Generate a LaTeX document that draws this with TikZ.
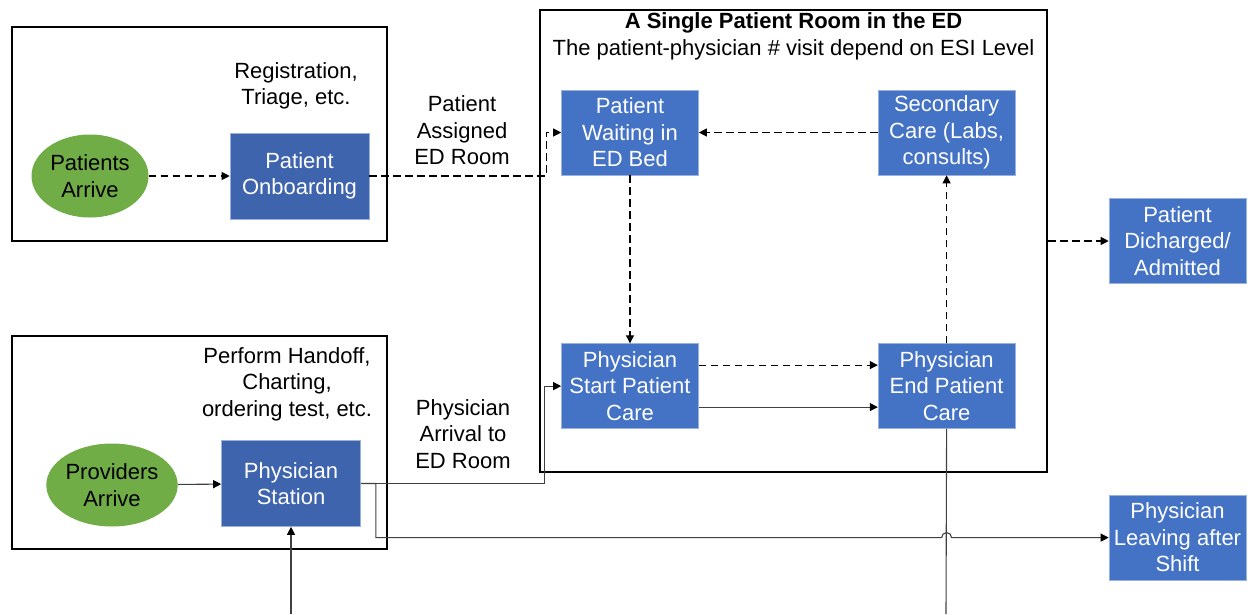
\documentclass[tikz,border=0pt]{standalone}
\usepackage{fontspec}
\setmainfont{Liberation Sans}
\usetikzlibrary{shapes.geometric,arrows.meta,positioning}
\definecolor{edblue}{HTML}{4472C4}
\definecolor{deskblue}{HTML}{3F64AE}
\definecolor{arrgreen}{HTML}{70AD47}
\definecolor{wire}{HTML}{404040}

\begin{document}
\begin{tikzpicture}[
  x=1pt,y=-1pt,
  font=\fontsize{22}{26.5}\selectfont,
  stagebox/.style={draw=edblue!55!white,line width=0.6pt,fill=edblue,text=white,minimum width=137pt,minimum height=85pt,inner sep=1pt,align=center},
  deskbox/.style={stagebox,fill=deskblue,minimum width=139pt,minimum height=86pt},
  arrivebox/.style={ellipse,fill=arrgreen,minimum height=83pt,inner sep=0pt,align=center},
  groupbox/.style={draw,line width=1.5pt,minimum width=375pt,minimum height=214pt},
  roombox/.style={draw,line width=2.6pt,minimum width=507pt,minimum height=462pt},
  note/.style={align=center,inner sep=0pt},
  flow/.style={-{Triangle[length=8pt,width=8pt]},dash pattern=on 7.5pt off 4.5pt,line width=1.1pt},
  wirearrow/.style={-{Triangle[length=8pt,width=8pt,color=black]},draw=wire,line width=1.1pt}
]
  \useasboundingbox (0,0) rectangle (1248,614);
  \node[groupbox] (patgrp) at (199.5,134) {};
  \node[groupbox,minimum height=213pt] (provgrp) at (199.5,442.5) {};
  \node[roombox] (room) at (793.5,241) {};
  \node[note] (roomtitle) at (793.5,36.5) {\textbf{A Single Patient Room in the ED}\\The patient-physician \# visit depend on ESI Level};
  \node[arrivebox,minimum width=117pt] (patarrive) at (90,176) {Patients\\Arrive};
  \node[deskbox,right=81pt of patarrive] (onboard) {Patient\\Onboarding};
  \node[note] (regnote) at (296,86) {Registration,\\Triage, etc.};
  \node[note] (assignnote) at (462,130.5) {Patient\\Assigned\\ED Room};
  \node[stagebox] (waiting) at (630,132.5) {Patient\\Waiting in\\ED Bed};
  \node[stagebox,right=179pt of waiting] (secondary) {Secondary\\Care (Labs,\\consults)};
  \node[stagebox,below=168pt of waiting] (start) {Physician\\Start Patient\\Care};
  \node[stagebox,below=168pt of secondary] (endcare) {Physician\\End Patient\\Care};
  \node[stagebox] (discharged) at (1177.5,241) {Patient\\Dicharged/\\Admitted};
  \node[stagebox,below=211pt of discharged] (leaving) {Physician\\Leaving after\\Shift};
  \node[deskbox] (station) at (291,483.5) {Physician\\Station};
  \node[arrivebox,minimum width=131pt] (provarrive) at (112,485) {Providers\\Arrive};
  \node[note] (handoffnote) at (287,384) {Perform Handoff,\\Charting,\\ordering test, etc.};
  \node[note] (arrivalnote) at (463,434) {Physician\\Arrival to\\ED Room};
  \coordinate (staffin) at (291,614);
  \coordinate (careexit) at (946,614);
  \draw[flow] (patarrive) -- (onboard);
  \draw[flow] (onboard.east) -- ([xshift=-15pt]waiting.west |- onboard.east) |- (waiting.west);
  \draw[flow] (secondary) -- (waiting);
  \draw[flow] (waiting) -- (start);
  \draw[flow] ([yshift=21pt]start.east) -- ([yshift=21pt]endcare.west);
  \draw[wirearrow] ([yshift=-21pt]start.east) -- ([yshift=-21pt]endcare.west);
  \draw[flow] (endcare) -- (secondary);
  \draw[flow] (room.east) -- (discharged);
  \draw[wirearrow] (provarrive) -- (station);
  \draw[wirearrow] (station.east) -- ([xshift=-17pt]start.west |- station.east) |- (start.west);
  \draw[wirearrow] (station.east) -- ++(15pt,0) |- ([xshift=-5pt]endcare.south |- leaving.west)
    arc[start angle=180,end angle=0,radius=5pt] -- (leaving.west);
  \draw[wirearrow] (staffin) -- (station);
  \draw[draw=wire,line width=1.1pt] (endcare.south) -- (careexit);
\end{tikzpicture}
\end{document}
